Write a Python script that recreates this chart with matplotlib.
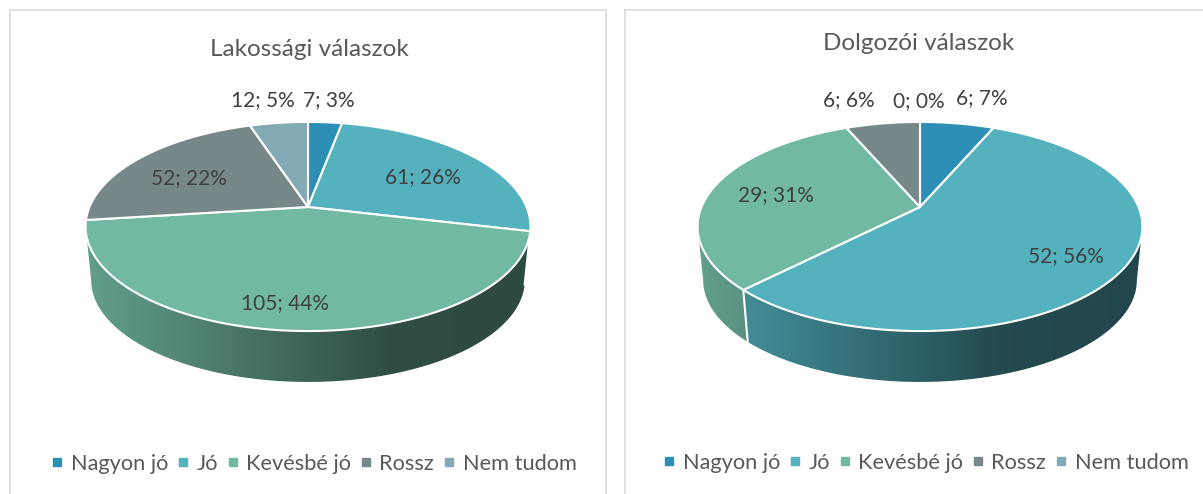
import numpy as np
import matplotlib
matplotlib.use("Agg")
import matplotlib.pyplot as plt
from matplotlib.lines import Line2D
from matplotlib.patches import Polygon

plt.rcParams["font.family"] = ["Lato", "DejaVu Sans"]

W, H = 1203, 494

categories = ["Nagyon jó", "Jó", "Kevésbé jó", "Rossz", "Nem tudom"]
colors = ["#2E8FB6", "#54B1BE", "#72B9A3", "#76888A", "#82A9B4"]

title_left = "Lakossági válaszok"
values_left = [7, 61, 105, 52, 12]
pct_left = [3, 26, 44, 22, 5]

title_right = "Dolgozói válaszok"
values_right = [6, 52, 29, 6, 0]
pct_right = [7, 56, 31, 6, 0]

# layout, all in image pixels
labels_left_xy = [(329, 100), (423, 177), (285, 303), (189, 178), (263, 100)]
labels_right_xy = [(982, 98), (1066, 256), (776, 195), (849, 100), (919, 101)]
TILT = 0.1866     # perspective of the pie plane
RX, RY = 218.5, 100.9
DEPTH, SHRINK = 54, 0.975


def project(theta, cx, cy, scale=1.0, dy=0.0):
    # theta runs clockwise from 12 o'clock, circle is seen in perspective
    u, v = np.sin(theta), np.cos(theta)
    w = 1 + TILT * v
    return cx + scale * RX * u / w, cy + dy - scale * RY * v / w


def draw_pie(ax, title, values, pcts, label_xy, cx, cy, title_xy, legend_xy):
    edges = 2 * np.pi * np.cumsum([0] + values) / sum(values)
    x0, x1 = cx - 222, cx + 222
    # wall only shows between the two widest points of the top ellipse
    vis0 = np.arccos(-TILT)
    vis1 = 2 * np.pi - vis0

    for i in range(len(values)):
        a0, a1 = max(edges[i], vis0), min(edges[i + 1], vis1)
        if a1 <= a0:
            continue
        t = np.linspace(a0, a1, 200)
        tx, ty = project(t, cx, cy)
        bx, by = project(t, cx, cy, SHRINK, DEPTH)
        pts = np.r_[np.c_[tx, ty], np.c_[bx, by][::-1]]
        xs = np.linspace(x0, x1, 445)
        fade = np.interp((xs - x0) / (x1 - x0), [0, 0.68, 1], [0.86, 0.42, 0.40])
        rgb = np.array(matplotlib.colors.to_rgb(colors[i]))
        img = (fade[:, None] * rgb)[None, :, :]
        im = ax.imshow(img, extent=(x0, x1, cy + 190, cy - 20), aspect="auto", zorder=1)
        clip = Polygon(pts, closed=True, transform=ax.transData, fc="none", ec="none")
        ax.add_patch(clip)
        im.set_clip_path(clip)
        if a0 > vis0:
            ax.plot([bx[0], tx[0]], [by[0], ty[0]], color="white", lw=1.5, zorder=2)

    # top face
    for i in range(len(values)):
        if values[i] == 0:
            continue
        t = np.linspace(edges[i], edges[i + 1], 300)
        px, py = project(t, cx, cy)
        pts = np.r_[[[cx, cy]], np.c_[px, py]]
        ax.add_patch(Polygon(pts, closed=True, fc=colors[i], ec="white", lw=1.5,
                             joinstyle="round", zorder=3))

    for v, p, (lx, ly) in zip(values, pcts, label_xy):
        ax.text(lx, ly, f"{v}; {p}%", ha="center", va="center", fontsize=15,
                color="#404040", zorder=4)

    ax.text(title_xy[0], title_xy[1], title, ha="center", va="center", fontsize=17.5,
            color="#595959")

    handles = [Line2D([], [], ls="none", marker="s", ms=6, color=c, label=n)
               for c, n in zip(colors, categories)]
    ax.legend(handles=handles, ncols=5, loc="center", bbox_to_anchor=legend_xy,
              bbox_transform=ax.transData, frameon=False, fontsize=15.7,
              labelcolor="#595959", handletextpad=0.1, columnspacing=0.2,
              handlelength=1.0, borderpad=0, borderaxespad=0)


def panel(fig, left, right, top, bottom):
    ax = fig.add_axes([left / W, 1 - bottom / H, (right - left) / W, (bottom - top) / H])
    ax.set_xlim(left, right)
    ax.set_ylim(bottom, top)
    ax.set_xticks([])
    ax.set_yticks([])
    for s in ax.spines.values():
        s.set_color("#D9D9D9")
        s.set_linewidth(1.2)
    return ax


fig = plt.figure(figsize=(W / 100, H / 100), dpi=100)

ax1 = panel(fig, 10, 606, 10, 505)
draw_pie(ax1, title_left, values_left, pct_left, labels_left_xy, 308, 207, (309, 49), (311.5, 464))

ax2 = panel(fig, 625, 1215, 10, 505)
draw_pie(ax2, title_right, values_right, pct_right, labels_right_xy, 920, 207, (919, 43), (923.5, 463))

fig.savefig("out.png", dpi=100)
